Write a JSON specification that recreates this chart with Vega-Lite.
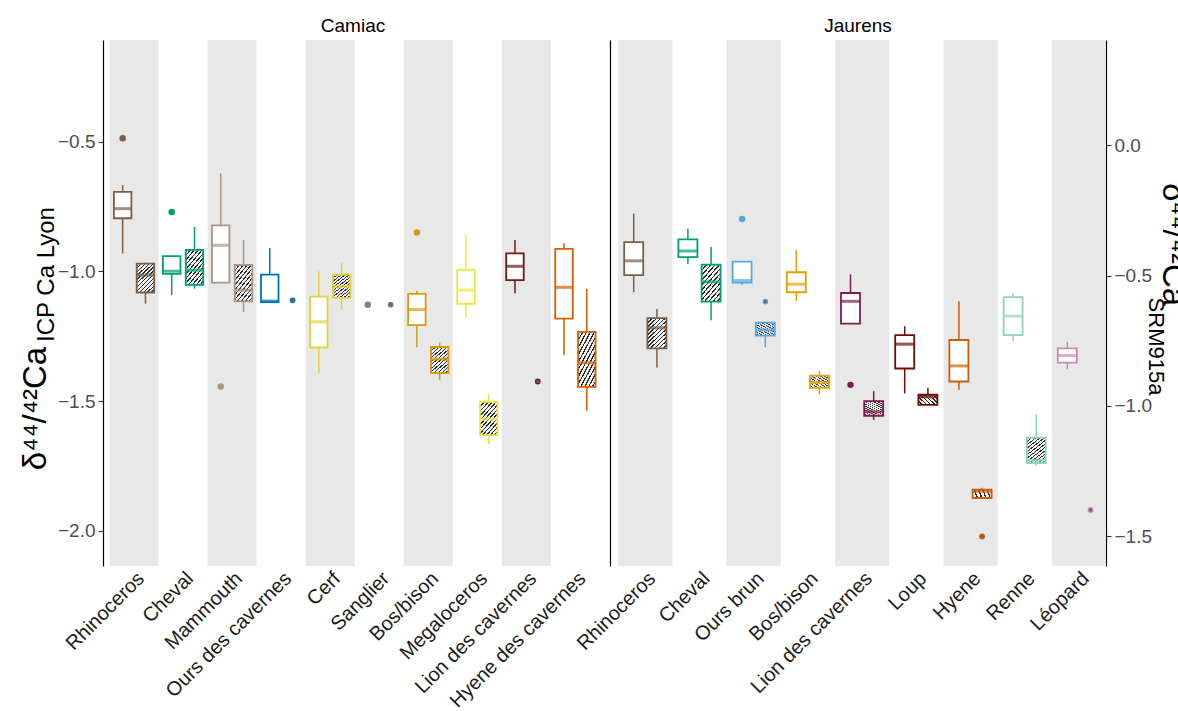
{
  "$schema": "https://vega.github.io/schema/vega-lite/v6.json",
  "background": "white",
  "padding": {"left": 19, "top": 17, "right": 0, "bottom": 0},
  "spacing": 7,
  "bounds": "flush",
  "resolve": {"scale": {"stroke": "independent", "fill": "independent", "color": "independent"}},
  "datasets": {
    "bands": [
      {"site": "Camiac", "species": "Rhinoceros"},
      {"site": "Camiac", "species": "Mammouth"},
      {"site": "Camiac", "species": "Cerf"},
      {"site": "Camiac", "species": "Bos/bison"},
      {"site": "Camiac", "species": "Lion des cavernes"},
      {"site": "Jaurens", "species": "Rhinoceros"},
      {"site": "Jaurens", "species": "Ours brun"},
      {"site": "Jaurens", "species": "Lion des cavernes"},
      {"site": "Jaurens", "species": "Hyene"},
      {"site": "Jaurens", "species": "Léopard"}
    ],
    "boxes": [
      {"site": "Camiac", "species": "Rhinoceros", "type": "plain", "lower": -0.931, "q1": -0.795, "median": -0.758, "q3": -0.693, "upper": -0.667},
      {"site": "Camiac", "species": "Rhinoceros", "type": "hatched", "lower": -1.124, "q1": -1.081, "median": -1.014, "q3": -0.970, "upper": -0.966},
      {"site": "Camiac", "species": "Cheval", "type": "plain", "lower": -1.091, "q1": -1.009, "median": -0.999, "q3": -0.941, "upper": -0.941},
      {"site": "Camiac", "species": "Cheval", "type": "hatched", "lower": -1.066, "q1": -1.052, "median": -0.995, "q3": -0.917, "upper": -0.828},
      {"site": "Camiac", "species": "Mammouth", "type": "plain", "lower": -1.043, "q1": -1.043, "median": -0.899, "q3": -0.822, "upper": -0.622},
      {"site": "Camiac", "species": "Mammouth", "type": "hatched", "lower": -1.156, "q1": -1.115, "median": -1.072, "q3": -0.975, "upper": -0.879},
      {"site": "Camiac", "species": "Ours des cavernes", "type": "plain", "lower": -1.118, "q1": -1.118, "median": -1.114, "q3": -1.012, "upper": -0.910},
      {"site": "Camiac", "species": "Cerf", "type": "plain", "lower": -1.390, "q1": -1.293, "median": -1.194, "q3": -1.097, "upper": -0.999},
      {"site": "Camiac", "species": "Cerf", "type": "hatched", "lower": -1.147, "q1": -1.102, "median": -1.058, "q3": -1.012, "upper": -0.968},
      {"site": "Camiac", "species": "Bos/bison", "type": "plain", "lower": -1.292, "q1": -1.207, "median": -1.147, "q3": -1.086, "upper": -1.074},
      {"site": "Camiac", "species": "Bos/bison", "type": "hatched", "lower": -1.419, "q1": -1.392, "median": -1.338, "q3": -1.291, "upper": -1.274},
      {"site": "Camiac", "species": "Megaloceros", "type": "plain", "lower": -1.179, "q1": -1.125, "median": -1.072, "q3": -0.994, "upper": -0.858},
      {"site": "Camiac", "species": "Megaloceros", "type": "hatched", "lower": -1.665, "q1": -1.631, "median": -1.569, "q3": -1.502, "upper": -1.473},
      {"site": "Camiac", "species": "Lion des cavernes", "type": "plain", "lower": -1.084, "q1": -1.033, "median": -0.980, "q3": -0.930, "upper": -0.879},
      {"site": "Camiac", "species": "Hyene des cavernes", "type": "plain", "lower": -1.322, "q1": -1.182, "median": -1.061, "q3": -0.913, "upper": -0.891},
      {"site": "Camiac", "species": "Hyene des cavernes", "type": "hatched", "lower": -1.537, "q1": -1.445, "median": -1.352, "q3": -1.233, "upper": -1.068},
      {"site": "Jaurens", "species": "Rhinoceros", "type": "plain", "lower": -1.080, "q1": -1.014, "median": -0.959, "q3": -0.887, "upper": -0.777},
      {"site": "Jaurens", "species": "Rhinoceros", "type": "hatched", "lower": -1.370, "q1": -1.296, "median": -1.217, "q3": -1.180, "upper": -1.145},
      {"site": "Jaurens", "species": "Cheval", "type": "plain", "lower": -0.971, "q1": -0.945, "median": -0.921, "q3": -0.876, "upper": -0.835},
      {"site": "Jaurens", "species": "Cheval", "type": "hatched", "lower": -1.188, "q1": -1.116, "median": -1.040, "q3": -0.974, "upper": -0.906},
      {"site": "Jaurens", "species": "Ours brun", "type": "plain", "lower": -1.052, "q1": -1.043, "median": -1.035, "q3": -0.962, "upper": -0.962},
      {"site": "Jaurens", "species": "Ours brun", "type": "hatched", "lower": -1.293, "q1": -1.247, "median": -1.225, "q3": -1.197, "upper": -1.197},
      {"site": "Jaurens", "species": "Bos/bison", "type": "plain", "lower": -1.113, "q1": -1.080, "median": -1.049, "q3": -1.003, "upper": -0.918},
      {"site": "Jaurens", "species": "Bos/bison", "type": "hatched", "lower": -1.473, "q1": -1.448, "median": -1.428, "q3": -1.401, "upper": -1.384},
      {"site": "Jaurens", "species": "Lion des cavernes", "type": "plain", "lower": -1.201, "q1": -1.201, "median": -1.115, "q3": -1.083, "upper": -1.011},
      {"site": "Jaurens", "species": "Lion des cavernes", "type": "hatched", "lower": -1.572, "q1": -1.556, "median": -1.541, "q3": -1.500, "upper": -1.461},
      {"site": "Jaurens", "species": "Loup", "type": "plain", "lower": -1.470, "q1": -1.374, "median": -1.280, "q3": -1.245, "upper": -1.211},
      {"site": "Jaurens", "species": "Loup", "type": "hatched", "lower": -1.514, "q1": -1.514, "median": -1.483, "q3": -1.475, "upper": -1.448},
      {"site": "Jaurens", "species": "Hyene", "type": "plain", "lower": -1.456, "q1": -1.424, "median": -1.364, "q3": -1.264, "upper": -1.115},
      {"site": "Jaurens", "species": "Hyene", "type": "hatched", "lower": -1.873, "q1": -1.873, "median": -1.847, "q3": -1.841, "upper": -1.833},
      {"site": "Jaurens", "species": "Renne", "type": "plain", "lower": -1.267, "q1": -1.245, "median": -1.172, "q3": -1.099, "upper": -1.084},
      {"site": "Jaurens", "species": "Renne", "type": "hatched", "lower": -1.749, "q1": -1.738, "median": -1.728, "q3": -1.640, "upper": -1.550},
      {"site": "Jaurens", "species": "Léopard", "type": "plain", "lower": -1.376, "q1": -1.351, "median": -1.324, "q3": -1.296, "upper": -1.272}
    ],
    "outliers": [
      {"site": "Camiac", "species": "Rhinoceros", "type": "plain", "value": -0.487},
      {"site": "Camiac", "species": "Cheval", "type": "plain", "value": -0.771},
      {"site": "Camiac", "species": "Mammouth", "type": "plain", "value": -1.443},
      {"site": "Camiac", "species": "Ours des cavernes", "type": "hatched", "value": -1.111},
      {"site": "Camiac", "species": "Sanglier", "type": "plain", "value": -1.128},
      {"site": "Camiac", "species": "Sanglier", "type": "hatched", "value": -1.128},
      {"site": "Camiac", "species": "Bos/bison", "type": "plain", "value": -0.850},
      {"site": "Camiac", "species": "Lion des cavernes", "type": "hatched", "value": -1.424},
      {"site": "Jaurens", "species": "Ours brun", "type": "plain", "value": -0.798},
      {"site": "Jaurens", "species": "Ours brun", "type": "hatched", "value": -1.116},
      {"site": "Jaurens", "species": "Lion des cavernes", "type": "plain", "value": -1.437},
      {"site": "Jaurens", "species": "Hyene", "type": "hatched", "value": -2.021},
      {"site": "Jaurens", "species": "Léopard", "type": "hatched", "value": -1.919}
    ]
  },
  "hconcat": [
    {
      "title": "Camiac",
      "width": 500,
      "height": 526,
      "resolve": {"scale": {"y": "independent"}, "axis": {"y": "independent"}},
      "layer": [
        {
          "data": {"name": "bands"},
          "transform": [{"filter": "datum.site === 'Camiac'"}],
          "mark": {"type": "rect", "fill": "#e8e8e8"},
          "encoding": {
            "x": {"field": "species", "type": "nominal", "title": null, "sort": null, "scale": {"domain": ["Rhinoceros", "Cheval", "Mammouth", "Ours des cavernes", "Cerf", "Sanglier", "Bos/bison", "Megaloceros", "Lion des cavernes", "Hyene des cavernes"], "paddingInner": 0, "paddingOuter": 0.098, "align": 0.68}}
          }
        },
        {
          "data": {"name": "boxes"},
          "transform": [{"filter": "datum.site === 'Camiac' && datum.type === 'plain'"}],
          "mark": {"type": "rule", "strokeWidth": 1.5, "xOffset": -11.4},
          "encoding": {
            "x": {"field": "species", "type": "nominal", "title": null},
            "y": {"field": "lower", "type": "quantitative", "scale": {"domain": [-2.135, -0.108], "nice": false, "zero": false},
              "axis": {"orient": "left", "values": [-2, -1.5, -1, -0.5], "format": ".1f", "title": "δ⁴⁴/⁴²Ca", "titleFontSize": 33, "titleAngle": -90, "titleX": -58, "titleY": 368, "titleAlign": "center", "titleBaseline": "alphabetic"}},
            "y2": {"field": "upper"},
            "stroke": {"field": "species", "type": "nominal", "legend": null, "scale": {"domain": ["Rhinoceros", "Cheval", "Mammouth", "Ours des cavernes", "Cerf", "Sanglier", "Bos/bison", "Megaloceros", "Lion des cavernes", "Hyene des cavernes"], "range": ["#7B5F48", "#009E73", "#A99583", "#0072B2", "#E0D23C", "#808080", "#D69A0D", "#F0E442", "#6A1C10", "#D55E00"]}}
          }
        },
        {
          "data": {"name": "boxes"},
          "transform": [{"filter": "datum.site === 'Camiac' && datum.type === 'hatched'"}],
          "mark": {"type": "rule", "strokeWidth": 1.5, "xOffset": 11.4},
          "encoding": {
            "x": {"field": "species", "type": "nominal", "title": null},
            "y": {"field": "lower", "type": "quantitative", "scale": {"domain": [-2.135, -0.108], "nice": false, "zero": false}, "axis": null},
            "y2": {"field": "upper"},
            "stroke": {"field": "species", "type": "nominal", "legend": null}
          }
        },
        {
          "data": {"name": "boxes"},
          "transform": [{"filter": "datum.site === 'Camiac' && datum.type === 'plain'"}],
          "mark": {"type": "bar", "fill": "white", "strokeWidth": 1.8, "width": 17.5, "xOffset": -11.4},
          "encoding": {
            "x": {"field": "species", "type": "nominal", "title": null},
            "y": {"field": "q1", "type": "quantitative", "scale": {"domain": [-2.135, -0.108], "nice": false, "zero": false}, "axis": null},
            "y2": {"field": "q3"},
            "stroke": {"field": "species", "type": "nominal", "legend": null}
          }
        },
        {
          "data": {"name": "boxes"},
          "transform": [{"filter": "datum.site === 'Camiac' && datum.type === 'hatched'"}],
          "mark": {"type": "bar", "strokeWidth": 1.8, "width": 17.5, "xOffset": 11.4,
            "fill": {"gradient": "linear", "x1": 0, "y1": 0, "x2": 0.7, "y2": 1.18, "stops": [
              {"offset": 0, "color": "#2a2a2a"}, {"offset": 0.0292, "color": "#2a2a2a"}, {"offset": 0.0292, "color": "#f4f4f4"}, {"offset": 0.0833, "color": "#f4f4f4"},
              {"offset": 0.0833, "color": "#2a2a2a"}, {"offset": 0.1125, "color": "#2a2a2a"}, {"offset": 0.1125, "color": "#f4f4f4"}, {"offset": 0.1667, "color": "#f4f4f4"},
              {"offset": 0.1667, "color": "#2a2a2a"}, {"offset": 0.1958, "color": "#2a2a2a"}, {"offset": 0.1958, "color": "#f4f4f4"}, {"offset": 0.25, "color": "#f4f4f4"},
              {"offset": 0.25, "color": "#2a2a2a"}, {"offset": 0.2792, "color": "#2a2a2a"}, {"offset": 0.2792, "color": "#f4f4f4"}, {"offset": 0.3333, "color": "#f4f4f4"},
              {"offset": 0.3333, "color": "#2a2a2a"}, {"offset": 0.3625, "color": "#2a2a2a"}, {"offset": 0.3625, "color": "#f4f4f4"}, {"offset": 0.4167, "color": "#f4f4f4"},
              {"offset": 0.4167, "color": "#2a2a2a"}, {"offset": 0.4458, "color": "#2a2a2a"}, {"offset": 0.4458, "color": "#f4f4f4"}, {"offset": 0.5, "color": "#f4f4f4"},
              {"offset": 0.5, "color": "#2a2a2a"}, {"offset": 0.5292, "color": "#2a2a2a"}, {"offset": 0.5292, "color": "#f4f4f4"}, {"offset": 0.5833, "color": "#f4f4f4"},
              {"offset": 0.5833, "color": "#2a2a2a"}, {"offset": 0.6125, "color": "#2a2a2a"}, {"offset": 0.6125, "color": "#f4f4f4"}, {"offset": 0.6667, "color": "#f4f4f4"},
              {"offset": 0.6667, "color": "#2a2a2a"}, {"offset": 0.6958, "color": "#2a2a2a"}, {"offset": 0.6958, "color": "#f4f4f4"}, {"offset": 0.75, "color": "#f4f4f4"},
              {"offset": 0.75, "color": "#2a2a2a"}, {"offset": 0.7792, "color": "#2a2a2a"}, {"offset": 0.7792, "color": "#f4f4f4"}, {"offset": 0.8333, "color": "#f4f4f4"},
              {"offset": 0.8333, "color": "#2a2a2a"}, {"offset": 0.8625, "color": "#2a2a2a"}, {"offset": 0.8625, "color": "#f4f4f4"}, {"offset": 0.9167, "color": "#f4f4f4"},
              {"offset": 0.9167, "color": "#2a2a2a"}, {"offset": 0.9458, "color": "#2a2a2a"}, {"offset": 0.9458, "color": "#f4f4f4"}, {"offset": 1, "color": "#f4f4f4"}
            ]}},
          "encoding": {
            "x": {"field": "species", "type": "nominal", "title": null},
            "y": {"field": "q1", "type": "quantitative", "scale": {"domain": [-2.135, -0.108], "nice": false, "zero": false}, "axis": null},
            "y2": {"field": "q3"},
            "stroke": {"field": "species", "type": "nominal", "legend": null}
          }
        },
        {
          "data": {"name": "boxes"},
          "transform": [{"filter": "datum.site === 'Camiac' && datum.type === 'plain'"}],
          "mark": {"type": "tick", "orient": "horizontal", "thickness": 3, "size": 17.5, "xOffset": -11.4},
          "encoding": {
            "x": {"field": "species", "type": "nominal", "title": null},
            "y": {"field": "median", "type": "quantitative", "scale": {"domain": [-2.135, -0.108], "nice": false, "zero": false}, "axis": null},
            "color": {"field": "species", "type": "nominal", "legend": null, "scale": {"domain": ["Rhinoceros", "Cheval", "Mammouth", "Ours des cavernes", "Cerf", "Sanglier", "Bos/bison", "Megaloceros", "Lion des cavernes", "Hyene des cavernes"], "range": ["#7B5F48", "#009E73", "#A99583", "#0072B2", "#E0D23C", "#808080", "#D69A0D", "#F0E442", "#6A1C10", "#D55E00"]}}
          }
        },
        {
          "data": {"name": "boxes"},
          "transform": [{"filter": "datum.site === 'Camiac' && datum.type === 'hatched'"}],
          "mark": {"type": "tick", "orient": "horizontal", "thickness": 3, "size": 17.5, "xOffset": 11.4},
          "encoding": {
            "x": {"field": "species", "type": "nominal", "title": null},
            "y": {"field": "median", "type": "quantitative", "scale": {"domain": [-2.135, -0.108], "nice": false, "zero": false}, "axis": null},
            "color": {"field": "species", "type": "nominal", "legend": null}
          }
        },
        {
          "data": {"name": "outliers"},
          "transform": [{"filter": "datum.site === 'Camiac' && datum.type === 'plain'"}],
          "mark": {"type": "point", "filled": true, "opacity": 1, "size": 42, "xOffset": -11.4},
          "encoding": {
            "x": {"field": "species", "type": "nominal", "title": null},
            "y": {"field": "value", "type": "quantitative", "scale": {"domain": [-2.135, -0.108], "nice": false, "zero": false}, "axis": null},
            "fill": {"field": "species", "type": "nominal", "legend": null, "scale": {"domain": ["Rhinoceros", "Cheval", "Mammouth", "Ours des cavernes", "Cerf", "Sanglier", "Bos/bison", "Megaloceros", "Lion des cavernes", "Hyene des cavernes"], "range": ["#7B5F48", "#009E73", "#A99583", "#0072B2", "#E0D23C", "#808080", "#D69A0D", "#F0E442", "#6A1C10", "#D55E00"]}}
          }
        },
        {
          "data": {"name": "outliers"},
          "transform": [{"filter": "datum.site === 'Camiac' && datum.type === 'hatched'"}],
          "mark": {"type": "point", "filled": false, "fill": "#666666", "fillOpacity": 1, "opacity": 1, "strokeWidth": 1.3, "size": 20, "xOffset": 11.4},
          "encoding": {
            "x": {"field": "species", "type": "nominal", "title": null},
            "y": {"field": "value", "type": "quantitative", "scale": {"domain": [-2.135, -0.108], "nice": false, "zero": false}, "axis": null},
            "stroke": {"field": "species", "type": "nominal", "legend": null}
          }
        },
        {
          "data": {"name": "boxes"},
          "transform": [{"filter": "datum.site === 'Camiac'"}],
          "mark": {"type": "point", "opacity": 0},
          "encoding": {
            "x": {"field": "species", "type": "nominal", "title": null},
            "y": {"field": "median", "type": "quantitative", "scale": {"domain": [-2.135, -0.108], "nice": false, "zero": false},
              "axis": {"orient": "left", "labels": false, "ticks": false, "domain": false, "title": "ICP Ca Lyon", "titleFontSize": 24, "titleAngle": -90, "titleX": -50, "titleY": 234, "titleAlign": "center", "titleBaseline": "alphabetic"}}
          }
        }
      ]
    },
    {
      "title": "Jaurens",
      "width": 496,
      "height": 526,
      "resolve": {"scale": {"y": "independent"}, "axis": {"y": "independent"}},
      "layer": [
        {
          "data": {"name": "bands"},
          "transform": [{"filter": "datum.site === 'Jaurens'"}],
          "mark": {"type": "rect", "fill": "#e8e8e8"},
          "encoding": {
            "x": {"field": "species", "type": "nominal", "title": null, "sort": null, "scale": {"domain": ["Rhinoceros", "Cheval", "Ours brun", "Bos/bison", "Lion des cavernes", "Loup", "Hyene", "Renne", "Léopard"], "paddingInner": 0, "paddingOuter": 0.0757, "align": 1}}
          }
        },
        {
          "data": {"name": "boxes"},
          "transform": [{"filter": "datum.site === 'Jaurens' && datum.type === 'plain'"}],
          "mark": {"type": "rule", "strokeWidth": 1.5, "xOffset": -11.6},
          "encoding": {
            "x": {"field": "species", "type": "nominal", "title": null},
            "y": {"field": "lower", "type": "quantitative", "scale": {"domain": [-2.135, -0.108], "nice": false, "zero": false},
              "axis": {"orient": "left", "labels": false, "ticks": false, "title": null}},
            "y2": {"field": "upper"},
            "stroke": {"field": "species", "type": "nominal", "legend": null, "scale": {"domain": ["Rhinoceros", "Cheval", "Ours brun", "Bos/bison", "Lion des cavernes", "Loup", "Hyene", "Renne", "Léopard"], "range": ["#7B5F48", "#009E73", "#56A9DE", "#E69F00", "#7D1D4F", "#6D1000", "#C65F0C", "#8ED3C1", "#CE87B1"]}}
          }
        },
        {
          "data": {"name": "boxes"},
          "transform": [{"filter": "datum.site === 'Jaurens' && datum.type === 'hatched'"}],
          "mark": {"type": "rule", "strokeWidth": 1.5, "xOffset": 11.6},
          "encoding": {
            "x": {"field": "species", "type": "nominal", "title": null},
            "y": {"field": "lower", "type": "quantitative", "scale": {"domain": [-2.135, -0.108], "nice": false, "zero": false}, "axis": null},
            "y2": {"field": "upper"},
            "stroke": {"field": "species", "type": "nominal", "legend": null}
          }
        },
        {
          "data": {"name": "boxes"},
          "transform": [{"filter": "datum.site === 'Jaurens' && datum.type === 'plain'"}],
          "mark": {"type": "bar", "fill": "white", "strokeWidth": 1.8, "width": 19, "xOffset": -11.6},
          "encoding": {
            "x": {"field": "species", "type": "nominal", "title": null},
            "y": {"field": "q1", "type": "quantitative", "scale": {"domain": [-2.135, -0.108], "nice": false, "zero": false}, "axis": null},
            "y2": {"field": "q3"},
            "stroke": {"field": "species", "type": "nominal", "legend": null}
          }
        },
        {
          "data": {"name": "boxes"},
          "transform": [{"filter": "datum.site === 'Jaurens' && datum.type === 'hatched'"}],
          "mark": {"type": "bar", "strokeWidth": 1.8, "width": 19, "xOffset": 11.6,
            "fill": {"gradient": "linear", "x1": 0, "y1": 0, "x2": 0.7, "y2": 1.18, "stops": [
              {"offset": 0, "color": "#2a2a2a"}, {"offset": 0.0292, "color": "#2a2a2a"}, {"offset": 0.0292, "color": "#f4f4f4"}, {"offset": 0.0833, "color": "#f4f4f4"},
              {"offset": 0.0833, "color": "#2a2a2a"}, {"offset": 0.1125, "color": "#2a2a2a"}, {"offset": 0.1125, "color": "#f4f4f4"}, {"offset": 0.1667, "color": "#f4f4f4"},
              {"offset": 0.1667, "color": "#2a2a2a"}, {"offset": 0.1958, "color": "#2a2a2a"}, {"offset": 0.1958, "color": "#f4f4f4"}, {"offset": 0.25, "color": "#f4f4f4"},
              {"offset": 0.25, "color": "#2a2a2a"}, {"offset": 0.2792, "color": "#2a2a2a"}, {"offset": 0.2792, "color": "#f4f4f4"}, {"offset": 0.3333, "color": "#f4f4f4"},
              {"offset": 0.3333, "color": "#2a2a2a"}, {"offset": 0.3625, "color": "#2a2a2a"}, {"offset": 0.3625, "color": "#f4f4f4"}, {"offset": 0.4167, "color": "#f4f4f4"},
              {"offset": 0.4167, "color": "#2a2a2a"}, {"offset": 0.4458, "color": "#2a2a2a"}, {"offset": 0.4458, "color": "#f4f4f4"}, {"offset": 0.5, "color": "#f4f4f4"},
              {"offset": 0.5, "color": "#2a2a2a"}, {"offset": 0.5292, "color": "#2a2a2a"}, {"offset": 0.5292, "color": "#f4f4f4"}, {"offset": 0.5833, "color": "#f4f4f4"},
              {"offset": 0.5833, "color": "#2a2a2a"}, {"offset": 0.6125, "color": "#2a2a2a"}, {"offset": 0.6125, "color": "#f4f4f4"}, {"offset": 0.6667, "color": "#f4f4f4"},
              {"offset": 0.6667, "color": "#2a2a2a"}, {"offset": 0.6958, "color": "#2a2a2a"}, {"offset": 0.6958, "color": "#f4f4f4"}, {"offset": 0.75, "color": "#f4f4f4"},
              {"offset": 0.75, "color": "#2a2a2a"}, {"offset": 0.7792, "color": "#2a2a2a"}, {"offset": 0.7792, "color": "#f4f4f4"}, {"offset": 0.8333, "color": "#f4f4f4"},
              {"offset": 0.8333, "color": "#2a2a2a"}, {"offset": 0.8625, "color": "#2a2a2a"}, {"offset": 0.8625, "color": "#f4f4f4"}, {"offset": 0.9167, "color": "#f4f4f4"},
              {"offset": 0.9167, "color": "#2a2a2a"}, {"offset": 0.9458, "color": "#2a2a2a"}, {"offset": 0.9458, "color": "#f4f4f4"}, {"offset": 1, "color": "#f4f4f4"}
            ]}},
          "encoding": {
            "x": {"field": "species", "type": "nominal", "title": null},
            "y": {"field": "q1", "type": "quantitative", "scale": {"domain": [-2.135, -0.108], "nice": false, "zero": false}, "axis": null},
            "y2": {"field": "q3"},
            "stroke": {"field": "species", "type": "nominal", "legend": null}
          }
        },
        {
          "data": {"name": "boxes"},
          "transform": [{"filter": "datum.site === 'Jaurens' && datum.type === 'plain'"}],
          "mark": {"type": "tick", "orient": "horizontal", "thickness": 3, "size": 19, "xOffset": -11.6},
          "encoding": {
            "x": {"field": "species", "type": "nominal", "title": null},
            "y": {"field": "median", "type": "quantitative", "scale": {"domain": [-2.135, -0.108], "nice": false, "zero": false}, "axis": null},
            "color": {"field": "species", "type": "nominal", "legend": null, "scale": {"domain": ["Rhinoceros", "Cheval", "Ours brun", "Bos/bison", "Lion des cavernes", "Loup", "Hyene", "Renne", "Léopard"], "range": ["#7B5F48", "#009E73", "#56A9DE", "#E69F00", "#7D1D4F", "#6D1000", "#C65F0C", "#8ED3C1", "#CE87B1"]}}
          }
        },
        {
          "data": {"name": "boxes"},
          "transform": [{"filter": "datum.site === 'Jaurens' && datum.type === 'hatched'"}],
          "mark": {"type": "tick", "orient": "horizontal", "thickness": 3, "size": 19, "xOffset": 11.6},
          "encoding": {
            "x": {"field": "species", "type": "nominal", "title": null},
            "y": {"field": "median", "type": "quantitative", "scale": {"domain": [-2.135, -0.108], "nice": false, "zero": false}, "axis": null},
            "color": {"field": "species", "type": "nominal", "legend": null}
          }
        },
        {
          "data": {"name": "outliers"},
          "transform": [{"filter": "datum.site === 'Jaurens' && datum.type === 'plain'"}],
          "mark": {"type": "point", "filled": true, "opacity": 1, "size": 42, "xOffset": -11.6},
          "encoding": {
            "x": {"field": "species", "type": "nominal", "title": null},
            "y": {"field": "value", "type": "quantitative", "scale": {"domain": [-2.135, -0.108], "nice": false, "zero": false}, "axis": null},
            "fill": {"field": "species", "type": "nominal", "legend": null, "scale": {"domain": ["Rhinoceros", "Cheval", "Ours brun", "Bos/bison", "Lion des cavernes", "Loup", "Hyene", "Renne", "Léopard"], "range": ["#7B5F48", "#009E73", "#56A9DE", "#E69F00", "#7D1D4F", "#6D1000", "#C65F0C", "#8ED3C1", "#CE87B1"]}}
          }
        },
        {
          "data": {"name": "outliers"},
          "transform": [{"filter": "datum.site === 'Jaurens' && datum.type === 'hatched'"}],
          "mark": {"type": "point", "filled": false, "fill": "#666666", "fillOpacity": 1, "opacity": 1, "strokeWidth": 1.3, "size": 20, "xOffset": 11.6},
          "encoding": {
            "x": {"field": "species", "type": "nominal", "title": null},
            "y": {"field": "value", "type": "quantitative", "scale": {"domain": [-2.135, -0.108], "nice": false, "zero": false}, "axis": null},
            "stroke": {"field": "species", "type": "nominal", "legend": null}
          }
        },
        {
          "data": {"name": "boxes"},
          "transform": [{"filter": "datum.site === 'Jaurens'"}],
          "mark": {"type": "point", "opacity": 0},
          "encoding": {
            "x": {"field": "species", "type": "nominal", "title": null},
            "y": {"field": "median", "type": "quantitative", "scale": {"domain": [-1.615, 0.404], "nice": false, "zero": false},
              "axis": {"orient": "right", "values": [-1.5, -1, -0.5, 0], "format": ".1f", "title": "δ⁴⁴/⁴²Ca", "titleFontSize": 33, "titleAngle": 90, "titleX": 56, "titleY": 204, "titleAlign": "center", "titleBaseline": "alphabetic"}}
          }
        },
        {
          "data": {"name": "boxes"},
          "transform": [{"filter": "datum.site === 'Jaurens'"}],
          "mark": {"type": "point", "opacity": 0},
          "encoding": {
            "x": {"field": "species", "type": "nominal", "title": null},
            "y": {"field": "q1", "type": "quantitative", "scale": {"domain": [-1.615, 0.404], "nice": false, "zero": false},
              "axis": {"orient": "right", "labels": false, "ticks": false, "domain": false, "title": "SRM915a", "titleFontSize": 22, "titleAngle": 90, "titleX": 42, "titleY": 306, "titleAlign": "center", "titleBaseline": "alphabetic"}}
          }
        }
      ]
    }
  ],
  "config": {
    "view": {"stroke": null},
    "font": "Liberation Sans",
    "axis": {"grid": false, "labelFont": "Liberation Sans", "titleFont": "Liberation Sans"},
    "axisX": {"ticks": false, "domain": false, "labelAngle": -45, "labelAlign": "right", "labelBaseline": "top", "labelFontSize": 20, "labelColor": "#1a1a1a", "labelPadding": 2, "labelOverlap": false, "labelLimit": 400},
    "axisY": {"tickColor": "#333333", "tickSize": 5, "tickWidth": 1.1, "labelFontSize": 19, "labelColor": "#4d4d4d", "labelPadding": 3, "domainColor": "#000000", "domainWidth": 1.2, "titleFontWeight": "normal", "titleColor": "#000000"},
    "title": {"fontSize": 19, "fontWeight": "normal", "color": "#000000", "font": "Liberation Sans", "offset": 4, "frame": "group"}
  }
}
